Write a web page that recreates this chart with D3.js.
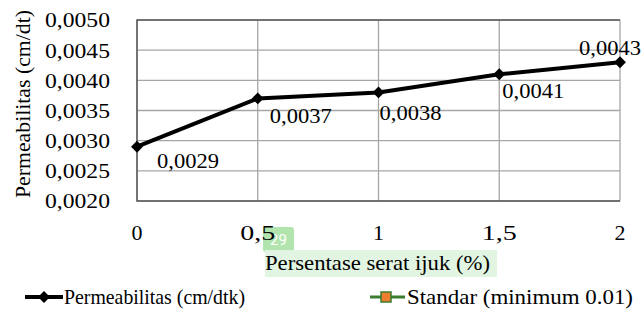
<!DOCTYPE html>
<html>
<head>
<meta charset="utf-8">
<script src="https://cdn.jsdelivr.net/npm/d3@7"></script>
<style>
  body { margin: 0; background: #fff; }
</style>
</head>
<body>
<svg width="642" height="309"></svg>
<script>
var xValues = [0, 0.5, 1, 1.5, 2];
var xTickLabels = ["0", "0,5", "1", "1,5", "2"];
var permeabilitas = [0.0029, 0.0037, 0.0038, 0.0041, 0.0043];
var pointLabels = ["0,0029", "0,0037", "0,0038", "0,0041", "0,0043"];
var yTicks = [0.0020, 0.0025, 0.0030, 0.0035, 0.0040, 0.0045, 0.0050];

// label offsets (dx, dy of baseline) from each marker
var labelOffsets = [[20, 21], [12, 25], [1, 28], [3, 24], [-41, -7]];

var svg = d3.select("svg");
var plot = { left: 137, right: 620, top: 20, bottom: 201 };

var x = d3.scaleLinear().domain([0, 2]).range([plot.left, plot.right]);
var y = d3.scaleLinear().domain([0.0020, 0.0050]).range([plot.bottom, plot.top]);
var fmt = d => d3.format(".4f")(d).replace(".", ",");

function serif(sel, size, len) {
    sel.style("font-family", "'Liberation Serif'")
       .attr("font-size", size).attr("fill", "#000");
    if (len) sel.attr("textLength", len).attr("lengthAdjust", "spacingAndGlyphs");
    return sel;
}

// grid
svg.append("g").selectAll("line").data(yTicks).enter().append("line")
    .attr("x1", plot.left).attr("x2", plot.right)
    .attr("y1", d => y(d)).attr("y2", d => y(d))
    .attr("stroke", "#a6a6a6").attr("stroke-width", 1.3);
svg.append("g").selectAll("line").data(xValues).enter().append("line")
    .attr("x1", d => x(d)).attr("x2", d => x(d))
    .attr("y1", plot.top).attr("y2", plot.bottom)
    .attr("stroke", "#a6a6a6").attr("stroke-width", 1.3);

// frame: left, top, bottom darker
svg.append("path")
    .attr("d", "M" + plot.right + "," + plot.top + "H" + plot.left + "V" + plot.bottom + "H" + plot.right)
    .attr("fill", "none").attr("stroke", "#595959").attr("stroke-width", 1.5);

// y axis labels
svg.append("g").selectAll("text").data(yTicks).enter().append("text")
    .attr("x", 110).attr("y", d => y(d)).attr("dy", "0.34em")
    .attr("text-anchor", "end")
    .text(fmt)
    .call(serif, 22, 65);

// page badge
svg.append("rect").attr("x", 263).attr("y", 227).attr("width", 31).attr("height", 25)
    .attr("rx", 3).attr("fill", "#a9e2a4").attr("opacity", 0.9);
svg.append("text").attr("x", 278.5).attr("y", 245)
    .attr("text-anchor", "middle").style("font-family", "'Roboto'")
    .attr("font-size", 15).attr("fill", "#fff").text("29");

// x axis labels
svg.append("g").selectAll("text").data(xValues).enter().append("text")
    .attr("x", d => x(d)).attr("y", 240)
    .attr("text-anchor", "middle")
    .text((d, i) => xTickLabels[i])
    .each(function (d, i) {
        serif(d3.select(this), 22, xTickLabels[i].length > 1 ? 35 : null);
    });

// y title
svg.append("text")
    .attr("transform", "translate(30,104) rotate(-90)")
    .attr("text-anchor", "middle")
    .text("Permeabilitas (cm/dt)")
    .call(serif, 21, 188);

// x title with highlight
svg.append("rect").attr("x", 265).attr("y", 250).attr("width", 232).attr("height", 27)
    .attr("fill", "#e2f4e2");
svg.append("text")
    .attr("x", 377.5).attr("y", 270)
    .attr("text-anchor", "middle")
    .text("Persentase serat ijuk (%)")
    .call(serif, 21, 225);

// line
var line = d3.line().x((d, i) => x(xValues[i])).y(d => y(d));
svg.append("path").datum(permeabilitas)
    .attr("d", line).attr("fill", "none")
    .attr("stroke", "#000").attr("stroke-width", 4).attr("stroke-linejoin", "round");

var diamond = d3.symbol().type(d3.symbolDiamond2).size(90);
svg.append("g").selectAll("path").data(permeabilitas).enter().append("path")
    .attr("transform", (d, i) => "translate(" + x(xValues[i]) + "," + y(d) + ")")
    .attr("d", diamond).attr("fill", "#000");

// point labels
svg.append("g").selectAll("text").data(permeabilitas).enter().append("text")
    .attr("x", (d, i) => x(xValues[i]) + labelOffsets[i][0])
    .attr("y", (d, i) => y(d) + labelOffsets[i][1])
    .text((d, i) => pointLabels[i])
    .call(serif, 22, 62);

// legend
var lg = svg.append("g");
lg.append("line").attr("x1", 25).attr("x2", 63).attr("y1", 297).attr("y2", 297)
    .attr("stroke", "#000").attr("stroke-width", 4);
lg.append("path").attr("transform", "translate(44,297)").attr("d", diamond).attr("fill", "#000");
lg.append("text").attr("x", 64).attr("y", 304)
    .text("Permeabilitas (cm/dtk)")
    .call(serif, 22, 181);

lg.append("line").attr("x1", 370).attr("x2", 405).attr("y1", 297).attr("y2", 297)
    .attr("stroke", "#3a7d2c").attr("stroke-width", 3);
lg.append("rect").attr("x", 381).attr("y", 292).attr("width", 10).attr("height", 10)
    .attr("fill", "#ed7d31").attr("stroke", "#3a7d2c").attr("stroke-width", 1.5);
lg.append("text").attr("x", 407).attr("y", 304)
    .text("Standar (minimum 0.01)")
    .call(serif, 22, 226);
</script>
</body>
</html>
